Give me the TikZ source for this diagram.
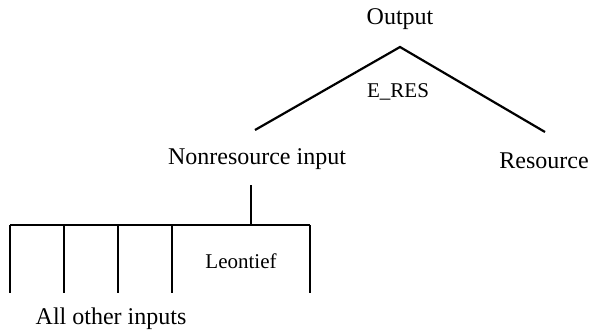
\documentclass[tikz,border=0pt]{standalone}
\usepackage{fontspec}
\setmainfont{Liberation Serif}
\begin{document}
\begin{tikzpicture}[x=0.5pt,y=-0.5pt,
  lbl/.style={inner sep=0pt,font=\fontsize{12}{14}\selectfont},
  small/.style={inner sep=0pt,font=\fontsize{10.5}{12}\selectfont},
  branch/.style={line width=1.1pt}]
\useasboundingbox (0,0) rectangle (592,333);
% labels
\node[lbl] (out) at (400,19) {Output};
\node[small] (eres) at (398,92) {E\_RES};
\node[lbl] (nonres) at (257,159) {Nonresource input};
\node[lbl] (res) at (544,161) {Resource};
\node[small] (leon) at (241,261) {Leontief};
\node[lbl] (allo) at (111,319) {All other inputs};
% top-level branch points
\coordinate (peak) at (400,47);
\coordinate (lend) at (255,130);
\coordinate (rend) at (545,132);
\draw[branch] (lend) -- (peak) -- (rend);
% nonresource nest: stem, bar and one leg per input
\coordinate (stem) at (251,185);
\coordinate (bar) at (251,225);
\coordinate (barl) at (10,225);
\coordinate (barr) at (310,225);
\draw[branch] (stem) -- (bar);
\draw[branch] (barl) -- (barr);
\foreach \i/\x in {1/10,2/64,3/118,4/172,5/310}{
  \coordinate (top\i) at (\x,225);
  \coordinate (foot\i) at (\x,293);
  \draw[branch] (top\i) -- (foot\i);
}
\end{tikzpicture}
\end{document}
